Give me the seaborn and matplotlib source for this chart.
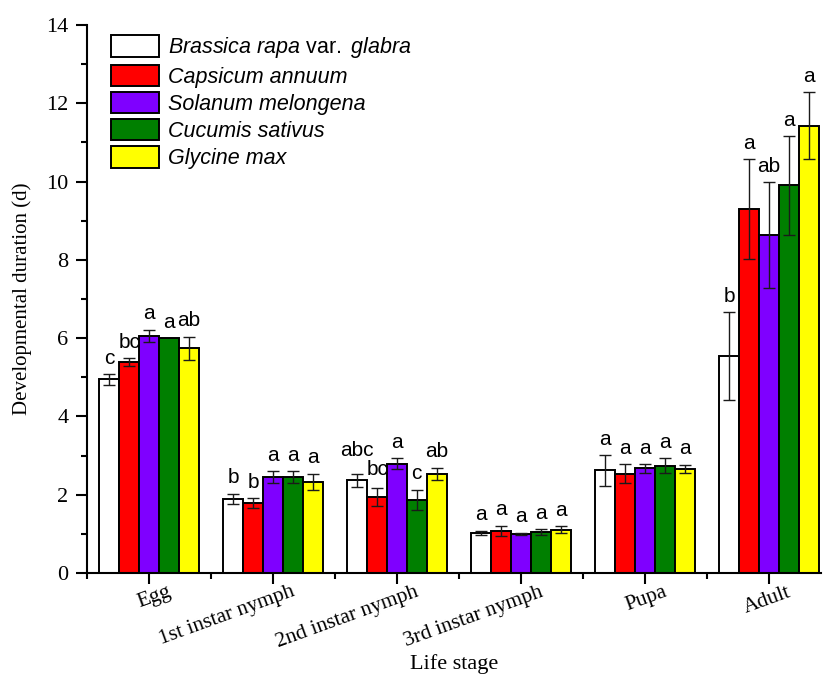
import matplotlib
matplotlib.use("Agg")
import matplotlib.pyplot as plt
import seaborn as sns
import pandas as pd
import numpy as np
from matplotlib.patches import Patch
from matplotlib.container import BarContainer
from matplotlib.transforms import ScaledTranslation
from matplotlib.ticker import MultipleLocator, FixedLocator

stages = ["Egg", "1st instar nymph", "2nd instar nymph", "3rd instar nymph", "Pupa", "Adult"]
hosts = ["Brassica rapa var. glabra", "Capsicum annuum", "Solanum melongena",
         "Cucumis sativus", "Glycine max"]
colors = ["#FFFFFF", "#FF0000", "#7F00FF", "#007F00", "#FFFF00"]

brassica = [4.95, 1.90, 2.37, 1.02, 2.62, 5.54]
capsicum = [5.39, 1.78, 1.95, 1.08, 2.54, 9.30]
solanum = [6.06, 2.45, 2.79, 1.00, 2.67, 8.64]
cucumis = [6.00, 2.45, 1.87, 1.05, 2.74, 9.90]
glycine = [5.74, 2.33, 2.53, 1.10, 2.66, 11.43]

brassica_se = [0.14, 0.13, 0.17, 0.06, 0.39, 1.12]
capsicum_se = [0.09, 0.13, 0.23, 0.13, 0.25, 1.27]
solanum_se = [0.16, 0.15, 0.14, 0.03, 0.12, 1.35]
cucumis_se = [0.00, 0.15, 0.26, 0.07, 0.19, 1.27]
glycine_se = [0.30, 0.21, 0.16, 0.09, 0.11, 0.86]

brassica_sig = ["c", "b", "abc", "a", "a", "b"]
capsicum_sig = ["bc", "b", "bc", "a", "a", "a"]
solanum_sig = ["a", "a", "a", "a", "a", "ab"]
cucumis_sig = ["a", "a", "c", "a", "a", "a"]
glycine_sig = ["ab", "a", "ab", "a", "a", "a"]

means = [brassica, capsicum, solanum, cucumis, glycine]
errs = [brassica_se, capsicum_se, solanum_se, cucumis_se, glycine_se]
sigs = [brassica_sig, capsicum_sig, solanum_sig, cucumis_sig, glycine_sig]

rows = []
for h, m in zip(hosts, means):
    for s, v in zip(stages, m):
        rows.append({"stage": s, "host": h, "value": v})
df = pd.DataFrame(rows)

sns.set_style("ticks")
plt.rcParams["font.family"] = ["Liberation Serif", "DejaVu Serif"]
plt.rcParams["mathtext.fontset"] = "custom"
plt.rcParams["mathtext.rm"] = "Liberation Sans"
plt.rcParams["mathtext.it"] = "Liberation Sans:italic"
for k in ["text.color", "axes.labelcolor", "xtick.color", "ytick.color", "axes.edgecolor"]:
    plt.rcParams[k] = "black"

fig = plt.figure(figsize=(8.23, 6.75), dpi=100)
ax = fig.add_axes([87 / 823, 1 - 573 / 675, 734 / 823, 548 / 675])

sns.barplot(data=df, x="stage", y="value", hue="host", order=stages, hue_order=hosts,
            palette=dict(zip(hosts, colors)), saturation=1, edgecolor="black",
            linewidth=1.4, errorbar=None, width=0.8, ax=ax, legend=False)

# extra lift (points) for labels that would otherwise collide
nudge = {(0, 2): 5.0, (1, 2): 2.0}

bar_conts = [c for c in list(ax.containers) if isinstance(c, BarContainer)]
for ci, cont in enumerate(bar_conts):
    for j, bar in enumerate(cont.patches):
        x = bar.get_x() + bar.get_width() / 2
        y = bar.get_height()
        e = errs[ci][j]
        if e > 0:
            ax.errorbar(x, y, yerr=e, fmt="none", ecolor="#1a1a1a", elinewidth=1.0,
                        capsize=4.5, capthick=1.0, zorder=5)
        ax.annotate(sigs[ci][j], (x, y + e), xytext=(0, 4.5 + nudge.get((ci, j), 0.0)),
                    textcoords="offset points", ha="center", va="bottom",
                    fontsize=15, family="Liberation Sans")

ax.set_xlim(-0.5, 5.42)
ax.set_ylim(0, 14)
ax.yaxis.set_major_locator(MultipleLocator(2))
ax.yaxis.set_minor_locator(MultipleLocator(1))
ax.xaxis.set_minor_locator(FixedLocator(np.arange(-0.5, 5.5, 1.0)))
sns.despine(ax=ax)
for sp in ["left", "bottom"]:
    ax.spines[sp].set_linewidth(1.5)
ax.tick_params(which="major", length=8, width=1.5, labelsize=16, direction="out")
ax.tick_params(which="minor", length=4.3, width=1.5, direction="out")
ax.tick_params(axis="y", pad=5.5)
ax.tick_params(axis="x", pad=-1, labelsize=15.5)

ax.set_xticks(range(len(stages)))
ax.set_xticklabels(stages, rotation=20, ha="right", rotation_mode="anchor", va="top")
for lab in ax.get_xticklabels():
    lab.set_transform(lab.get_transform() + ScaledTranslation(0.18, 0.0, fig.dpi_scale_trans))

ax.set_xlabel("Life stage", fontsize=16)
ax.xaxis.set_label_coords(0.5, -0.148)
ax.set_ylabel("Developmental duration (d)", fontsize=15, labelpad=10)

labels = [r"Brassica rapa $\mathrm{var.}$ glabra"] + hosts[1:]
handles = [Patch(facecolor=c, edgecolor="black", linewidth=1.4) for c in colors]
leg = ax.legend(handles, labels, loc="upper left", bbox_to_anchor=(0.021, 0.997),
                frameon=False, handlelength=2.23, handleheight=1.15, labelspacing=0.2,
                handletextpad=0.4, borderaxespad=0,
                prop={"family": "Liberation Sans", "style": "italic", "size": 15.5})

fig.savefig("out.png", dpi=100)
